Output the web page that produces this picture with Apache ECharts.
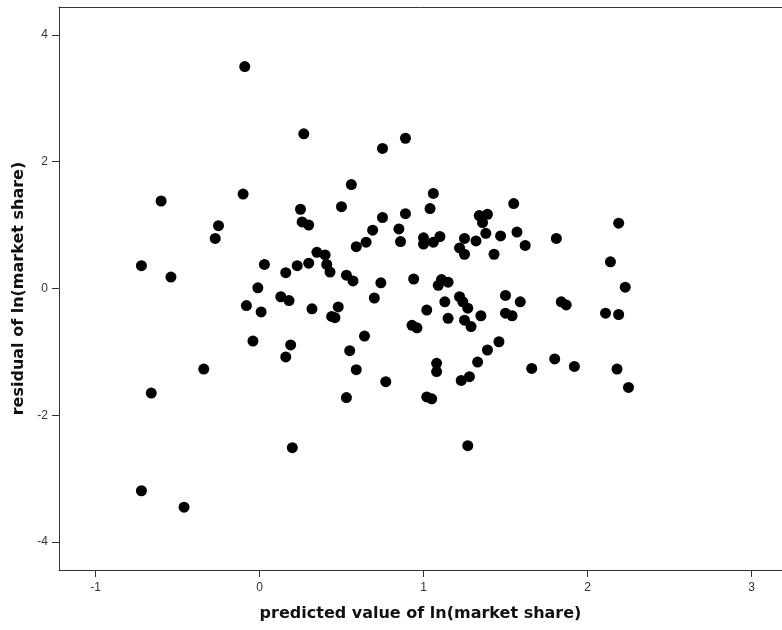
<!DOCTYPE html>
<html>
<head>
<meta charset="utf-8">
<script src="https://cdn.jsdelivr.net/npm/echarts@6/dist/echarts.min.js"></script>
<style>
  html, body { margin: 0; padding: 0; background: #fff; }
  #main { width: 782px; height: 630px; }
</style>
</head>
<body>
<div id="main"></div>
<script>
// predicted value of ln(market share)
var predicted = [
  -0.09, 0.27, 0.89, 0.75, 0.56, -0.10, -0.60, 1.06, 0.25, 0.50,
  1.04, 1.55, -0.25, -0.27, 0.26, 0.30, 0.75, 0.89, 0.69, 0.85,
  0.86, 0.65, 0.59, 1.00, 1.00, 1.06, 1.10, 1.34, 1.39, 1.36,
  1.38, 1.32, 1.25, 1.22, 1.25, 1.43, 1.47, 1.57, 1.62, 1.81,
  2.19, 2.14, 2.23, 2.11, 2.19, 2.18, 2.25, 1.50, 1.59, 1.84,
  1.87, 1.50, 1.54, 1.46, 1.39, 1.33, 1.28, 1.23, 1.66, 1.80,
  1.92, 1.27, 1.02, 1.05, 1.08, 1.08, 0.94, 1.11, 1.15, 1.09,
  1.22, 1.24, 1.27, 1.13, 1.02, 1.15, 1.25, 1.29, 1.35, 0.93,
  0.96, 0.77, 0.74, 0.70, 0.53, 0.57, 0.64, 0.55, 0.59, 0.53,
  0.48, 0.44, 0.46, 0.32, 0.35, 0.40, 0.41, 0.43, 0.30, 0.23,
  0.16, 0.03, -0.01, 0.13, 0.18, 0.01, -0.08, -0.04, 0.19, 0.16,
  0.20, -0.34, -0.66, -0.72, -0.54, -0.72, -0.46
];
// residual of ln(market share)
var residual = [
  3.50, 2.44, 2.37, 2.21, 1.64, 1.49, 1.38, 1.50, 1.25, 1.29,
  1.26, 1.34, 0.99, 0.79, 1.05, 1.00, 1.12, 1.18, 0.92, 0.94,
  0.74, 0.73, 0.66, 0.80, 0.70, 0.73, 0.82, 1.15, 1.17, 1.04,
  0.87, 0.75, 0.79, 0.64, 0.54, 0.54, 0.83, 0.89, 0.68, 0.79,
  1.03, 0.42, 0.02, -0.39, -0.41, -1.27, -1.56, -0.11, -0.21, -0.21,
  -0.26, -0.39, -0.43, -0.84, -0.97, -1.16, -1.39, -1.45, -1.26, -1.11,
  -1.23, -2.48, -1.71, -1.74, -1.18, -1.31, 0.15, 0.14, 0.10, 0.05,
  -0.13, -0.21, -0.31, -0.21, -0.34, -0.47, -0.50, -0.60, -0.43, -0.58,
  -0.62, -1.47, 0.09, -0.15, 0.21, 0.12, -0.75, -0.98, -1.28, -1.72,
  -0.29, -0.44, -0.46, -0.32, 0.57, 0.53, 0.38, 0.26, 0.40, 0.36,
  0.25, 0.38, 0.01, -0.13, -0.19, -0.37, -0.27, -0.83, -0.89, -1.08,
  -2.51, -1.27, -1.65, 0.36, 0.18, -3.19, -3.45
];
var xTicks = [-1, 0, 1, 2, 3];
var yTicks = [-4, -2, 0, 2, 4];

var points = predicted.map(function(v, i) {
  return [v, residual[i]];
});

var xMin = -1.2226;
var xMax = 3.186;
var axisColor = "#333333";
var labelStyle = {
  color: "#333333",
  fontFamily: "Liberation Sans, Arial, sans-serif",
  fontSize: 12
};
var nameStyle = {
  color: "#111111",
  fontFamily: "DejaVu Sans, sans-serif",
  fontSize: 16,
  fontWeight: "bold"
};

var chart = echarts.init(document.getElementById("main"));
chart.setOption({
  animation: false,
  backgroundColor: "#ffffff",
  grid: {
    left: 59,
    top: 7,
    right: 0,
    height: 563,
    show: false
  },
  xAxis: [
    {
      type: "value",
      min: xMin,
      max: xMax,
      name: "predicted value of ln(market share)",
      nameLocation: "middle",
      nameGap: 36,
      nameTextStyle: nameStyle,
      axisLine: { show: true, onZero: false, lineStyle: { color: axisColor, width: 1 } },
      axisTick: { show: true, length: 7, customValues: xTicks, lineStyle: { color: axisColor } },
      axisLabel: Object.assign({ margin: 12, customValues: xTicks }, labelStyle),
      splitLine: { show: false }
    },
    {
      // top frame line only
      type: "value",
      position: "top",
      min: xMin,
      max: xMax,
      axisLine: { show: true, onZero: false, lineStyle: { color: axisColor, width: 1 } },
      axisTick: { show: false },
      axisLabel: { show: false },
      splitLine: { show: false }
    }
  ],
  yAxis: {
    type: "value",
    min: -4.44,
    max: 4.44,
    name: "residual of ln(market share)",
    nameLocation: "middle",
    nameGap: 27,
    nameTextStyle: nameStyle,
    axisLine: { show: true, onZero: false, lineStyle: { color: axisColor, width: 1 } },
    axisTick: { show: true, length: 7, customValues: yTicks, lineStyle: { color: axisColor } },
    axisLabel: Object.assign({ margin: 11, customValues: yTicks }, labelStyle),
    splitLine: { show: false }
  },
  series: [
    {
      type: "scatter",
      xAxisIndex: 0,
      data: points,
      symbol: "circle",
      symbolSize: 11,
      itemStyle: { color: "#000000", opacity: 1 }
    }
  ]
});
</script>
</body>
</html>
